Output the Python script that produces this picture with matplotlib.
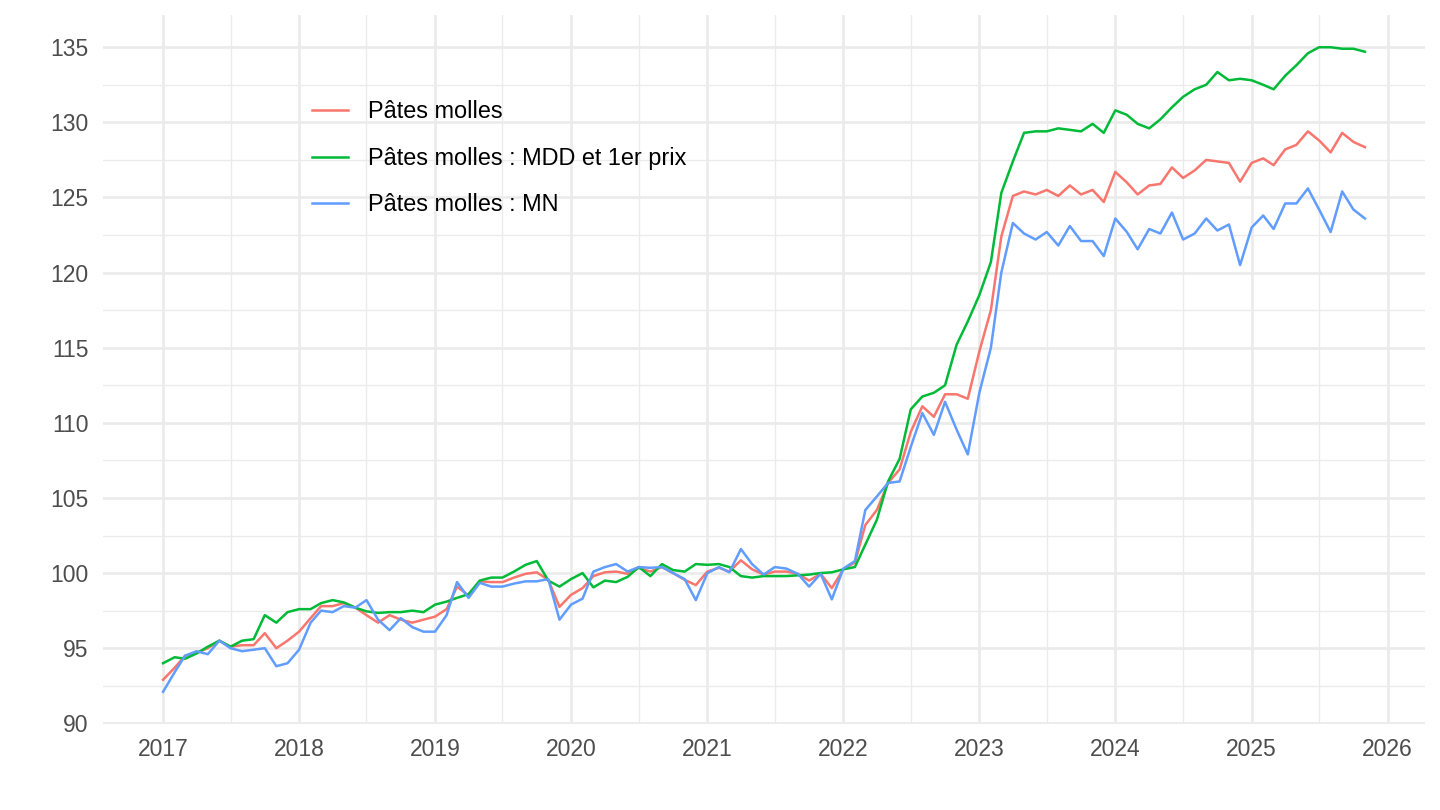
import matplotlib
matplotlib.use('Agg')
import matplotlib.pyplot as plt
import matplotlib.dates as mdates
from matplotlib.ticker import MultipleLocator
import pandas as pd

plt.rcParams['font.family'] = ['Liberation Sans', 'DejaVu Sans']

# ── Data (monthly index, Jan 2017 -> Nov 2025) ───────────────────────────────
dates = pd.date_range('2017-01-01', periods=107, freq='MS')

labels = ['Pâtes molles', 'Pâtes molles : MDD et 1er prix', 'Pâtes molles : MN']
colors = ['#F8766D', '#00BA38', '#619CFF']

pates_molles = [
    92.9, 93.7, 94.5, 94.7, 95.0, 95.5, 95.1, 95.2, 95.2, 96.0, 95.0, 95.5,
    96.1, 97.0, 97.8, 97.8, 98.0, 97.7, 97.2, 96.7, 97.2, 96.9, 96.7, 96.9,
    97.1, 97.6, 99.1, 98.5, 99.45, 99.4, 99.4, 99.7, 99.95, 100.05, 99.55, 97.75,
    98.55, 99.0, 99.8, 100.05, 100.1, 99.95, 100.35, 100.1, 100.4, 100.0, 99.55, 99.2,
    100.1, 100.35, 100.1, 100.85, 100.25, 99.9, 100.1, 100.1, 99.95, 99.5, 99.95, 99.0,
    100.25, 100.7, 103.2, 104.2, 106.0, 106.9, 109.4, 111.1, 110.4, 111.9, 111.9, 111.6,
    114.75, 117.5, 122.4, 125.1, 125.4, 125.2, 125.5, 125.1, 125.8, 125.2, 125.5, 124.7,
    126.7, 126.0, 125.2, 125.8, 125.9, 127.0, 126.3, 126.8, 127.5, 127.4, 127.3, 126.05,
    127.3, 127.6, 127.15, 128.2, 128.5, 129.4, 128.8, 128.0, 129.3, 128.7, 128.35,
]

pates_mdd = [
    94.0, 94.4, 94.3, 94.65, 95.1, 95.5, 95.1, 95.5, 95.6, 97.2, 96.7, 97.4,
    97.6, 97.6, 98.0, 98.2, 98.05, 97.7, 97.45, 97.35, 97.4, 97.4, 97.5, 97.4,
    97.9, 98.1, 98.35, 98.6, 99.5, 99.7, 99.7, 100.1, 100.55, 100.8, 99.5, 99.1,
    99.6, 100.0, 99.05, 99.5, 99.4, 99.75, 100.4, 99.8, 100.6, 100.2, 100.1, 100.6,
    100.55, 100.6, 100.4, 99.8, 99.7, 99.8, 99.8, 99.8, 99.85, 99.9, 100.0, 100.05,
    100.25, 100.4, 101.9, 103.55, 106.1, 107.6, 110.9, 111.75, 112.0, 112.5, 115.2, 116.75,
    118.5, 120.7, 125.3, 127.4, 129.3, 129.4, 129.4, 129.6, 129.5, 129.4, 129.9, 129.3,
    130.8, 130.5, 129.9, 129.6, 130.2, 131.0, 131.7, 132.2, 132.5, 133.35, 132.8, 132.9,
    132.8, 132.5, 132.2, 133.1, 133.8, 134.6, 135.0, 135.0, 134.9, 134.9, 134.7,
]

pates_mn = [
    92.1, 93.4, 94.5, 94.8, 94.6, 95.5, 95.0, 94.8, 94.9, 95.0, 93.8, 94.0,
    94.9, 96.7, 97.5, 97.4, 97.8, 97.7, 98.2, 96.9, 96.2, 97.0, 96.4, 96.1,
    96.1, 97.2, 99.4, 98.35, 99.35, 99.1, 99.1, 99.3, 99.45, 99.45, 99.6, 96.9,
    97.9, 98.3, 100.1, 100.4, 100.6, 100.1, 100.4, 100.35, 100.4, 100.0, 99.6, 98.2,
    100.0, 100.4, 100.05, 101.6, 100.6, 99.9, 100.4, 100.3, 99.95, 99.1, 99.95, 98.25,
    100.3, 100.8, 104.2, 105.1, 106.0, 106.1, 108.4, 110.65, 109.2, 111.4, 109.55, 107.9,
    112.0, 115.0, 120.0, 123.3, 122.6, 122.2, 122.7, 121.8, 123.1, 122.1, 122.1, 121.1,
    123.6, 122.7, 121.55, 122.9, 122.6, 124.0, 122.2, 122.6, 123.6, 122.8, 123.2, 120.5,
    123.0, 123.8, 122.9, 124.6, 124.6, 125.6, 124.2, 122.7, 125.4, 124.2, 123.6,
]

series = [pates_molles, pates_mdd, pates_mn]

# ── Figure ───────────────────────────────────────────────────────────────────
fig = plt.figure(figsize=(14.4, 8.1), dpi=100)
fig.patch.set_facecolor('white')
ax = fig.add_axes([103 / 1440, 86 / 810, 1322 / 1440, 709 / 810])

for vals, lab, col in zip(series, labels, colors):
    ax.plot(dates, vals, color=col, lw=1.8, label=lab, zorder=3)

# ggplot-like 5% expansion
span = dates[-1] - dates[0]
ax.set_xlim(dates[0] - span * 0.05, dates[-1] + span * 0.05)
all_vals = pates_molles + pates_mdd + pates_mn
lo, hi = min(all_vals), max(all_vals)
ax.set_ylim(lo - 0.05 * (hi - lo), hi + 0.05 * (hi - lo))

ax.xaxis.set_major_locator(mdates.YearLocator())
ax.xaxis.set_major_formatter(mdates.DateFormatter('%Y'))
ax.xaxis.set_minor_locator(mdates.MonthLocator(bymonth=7))
ax.yaxis.set_major_locator(MultipleLocator(5))
ax.yaxis.set_minor_locator(MultipleLocator(2.5))

ax.grid(which='major', color='#EBEBEB', lw=1.9, zorder=0)
ax.grid(which='minor', color='#EBEBEB', lw=1.0, zorder=0)
ax.set_axisbelow(True)
for s in ax.spines.values():
    s.set_visible(False)
ax.tick_params(which='both', length=0)
ax.tick_params(axis='x', labelsize=16.5, labelcolor='#4D4D4D', pad=10)
ax.tick_params(axis='y', labelsize=16.5, labelcolor='#4D4D4D', pad=10.5)

leg = ax.legend(loc='upper left', bbox_to_anchor=(311.7 / 1440, 1 - 100.5 / 810),
                bbox_transform=fig.transFigure, frameon=False, fontsize=16.9,
                handlelength=1.56, handletextpad=0.82, labelspacing=1.0,
                borderpad=0, borderaxespad=0)
for line in leg.get_lines():
    line.set_linewidth(1.8)

fig.savefig('out.png', dpi=100, facecolor='white')
